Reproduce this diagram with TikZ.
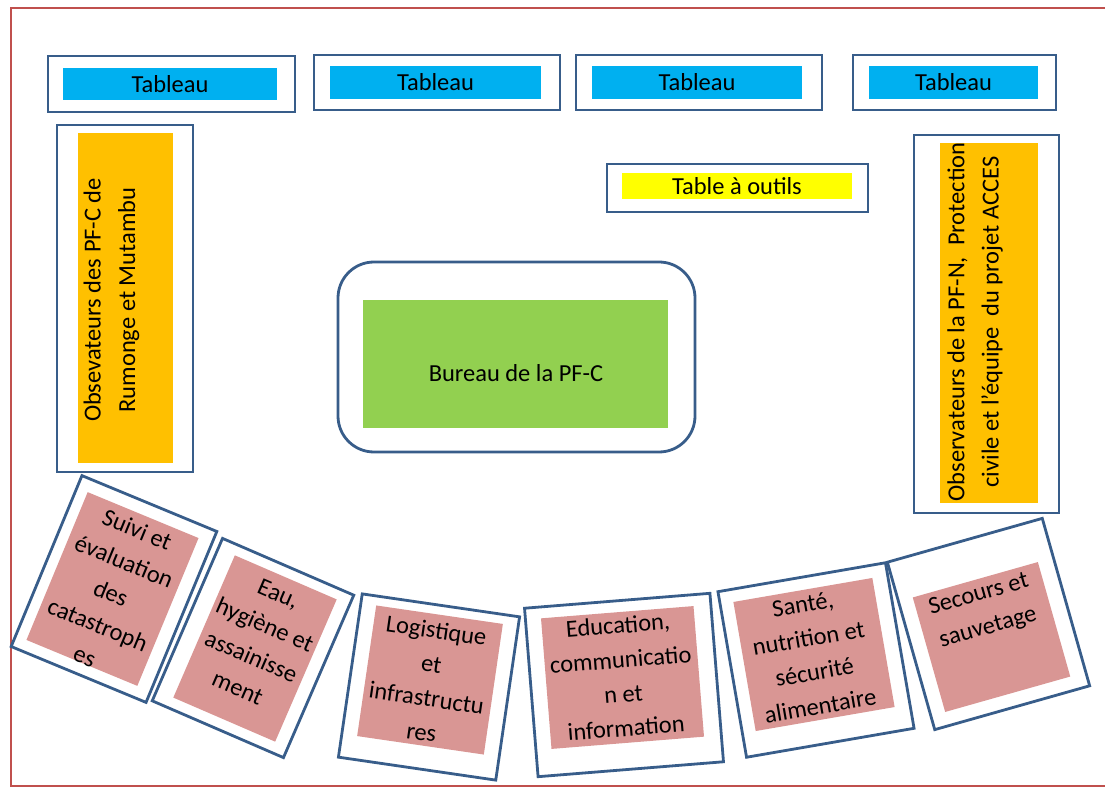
\documentclass[tikz,border=0pt]{standalone}
\usepackage{fontspec}
\setmainfont{Carlito}
\usepackage{xcolor}
\usepackage{tikz}
\definecolor{framered}{RGB}{192, 80, 77}
\definecolor{outlineblue}{RGB}{56, 93, 138}
\definecolor{tableaucyan}{RGB}{0, 176, 240}
\definecolor{obsorange}{RGB}{255, 192, 0}
\definecolor{toolyellow}{RGB}{255, 255, 0}
\definecolor{bureaugreen}{RGB}{146, 208, 80}
\definecolor{polepink}{RGB}{217, 150, 148}

\begin{document}
\begin{tikzpicture}[
    x=0.25mm, y=-0.25mm,
    size/.style 2 args={minimum width=#1*0.25mm, minimum height=#2*0.25mm},
    frame/.style={draw=framered, line width=0.6mm},
    outer/.style={rectangle, draw=outlineblue, line width=0.7mm, inner sep=0pt},
    inner/.style={rectangle, inner sep=0pt},
    txt/.style={align=center, inner sep=0pt, text=black, font=\fontsize{17.4}{24.4}\selectfont}
]
    \useasboundingbox (0,0) rectangle (1105,787);
    \clip (0,0) rectangle (1105,787);
    \draw[frame] (11,8) rectangle (1130,786);

    % tableaux
    \node[outer, size={247}{56}] (tableau1) at (171.5,84) {};
    \node[inner, txt, fill=tableaucyan, size={214}{32}] (tableau1-in) at (170,84) {Tableau};
    \node[outer, size={246}{55}] (tableau2) at (437,82.5) {};
    \node[inner, txt, fill=tableaucyan, size={211}{33}] (tableau2-in) at (435.5,82.5) {Tableau};
    \node[outer, size={246}{55}] (tableau3) at (699,82.5) {};
    \node[inner, txt, fill=tableaucyan, size={210}{33}] (tableau3-in) at (697,82.5) {Tableau};
    \node[outer, size={203}{55}] (tableau4) at (954.5,82.5) {};
    \node[inner, txt, fill=tableaucyan, size={169}{33}] (tableau4-in) at (953.5,82.5) {Tableau};

    % observateurs
    \node[outer, size={136}{347}] (obs-left) at (125,298.5) {};
    \node[inner, fill=obsorange, size={95}{330}] (obs-left-in) at (125.5,298) {};
    \node[txt, rotate=90] (obs-left-txt) at (111.5,300) {Obsevateurs des PF-C de\\Rumonge et Mutambu};
    \node[outer, size={145}{378}] (obs-right) at (986.5,324) {};
    \node[inner, fill=obsorange, size={98}{360}] (obs-right-in) at (989,323) {};
    \node[txt, rotate=90] (obs-right-txt) at (975,322) {Observateurs de la PF-N,\ \ Protection\\civile et l’équipe\ \ du projet ACCES};

    % table a outils
    \node[outer, size={261}{48}] (outils) at (737.5,188) {};
    \node[inner, txt, fill=toolyellow, size={230}{26}] (outils-in) at (737,186) {Table à outils};

    % bureau
    \node[outer, rounded corners=9mm, size={357}{190}] (bureau) at (516.5,357) {};
    \node[inner, fill=bureaugreen, size={305}{128}] (bureau-in) at (515.5,364) {};
    \node[txt] (bureau-txt) at (516,373) {Bureau de la PF-C};

    % commissions
    \node[outer, size={146}{185}, rotate=-22.5] (suivi) at (114,589) {};
    \node[inner, fill=polepink, size={120}{160}, rotate=-22.5] (suivi-in) at (112.5,589) {};
    \node[txt, rotate=-22.5] (suivi-txt) at (111,593) {Suivi et\\évaluation\\des\\catastroph\\es};

    \node[outer, size={143}{177}, rotate=-23.4] (eau) at (253,648) {};
    \node[inner, fill=polepink, size={111}{155}, rotate=-23.4] (eau-in) at (255,648.5) {};
    \node[txt, rotate=-23.4] (eau-txt) at (258,641) {Eau,\\hygiène et\\assainisse\\ment};

    \node[outer, size={159}{165}, rotate=-8.3] (logistique) at (429,687) {};
    \node[inner, fill=polepink, size={128}{132}, rotate=-8.3] (logistique-in) at (430,680) {};
    \node[txt, rotate=-8.3] (logistique-txt) at (429,681) {Logistique\\et\\infrastructu\\res};

    \node[outer, size={186}{169}, rotate=4.6] (education) at (624,685) {};
    \node[inner, fill=polepink, size={153}{131}, rotate=4.6] (education-in) at (622.5,677.5) {};
    \node[txt, rotate=4.6] (education-txt) at (622,676.5) {Education,\\communicatio\\n et\\information};

    \node[outer, size={170}{168}, rotate=9.8] (sante) at (816,660) {};
    \node[inner, fill=polepink, size={141}{131}, rotate=9.8] (sante-in) at (814,654.5) {};
    \node[txt, rotate=9.8] (sante-txt) at (811.5,655) {Santé,\\nutrition et\\sécurité\\alimentaire};

    \node[outer, size={161}{174}, rotate=15.8] (secours) at (988.5,624) {};
    \node[inner, fill=polepink, size={130}{119}, rotate=15.8] (secours-in) at (991.5,637) {};
    \node[txt, rotate=15.8] (secours-txt) at (983.5,611.5) {Secours et\\sauvetage};
\end{tikzpicture}
\end{document}
